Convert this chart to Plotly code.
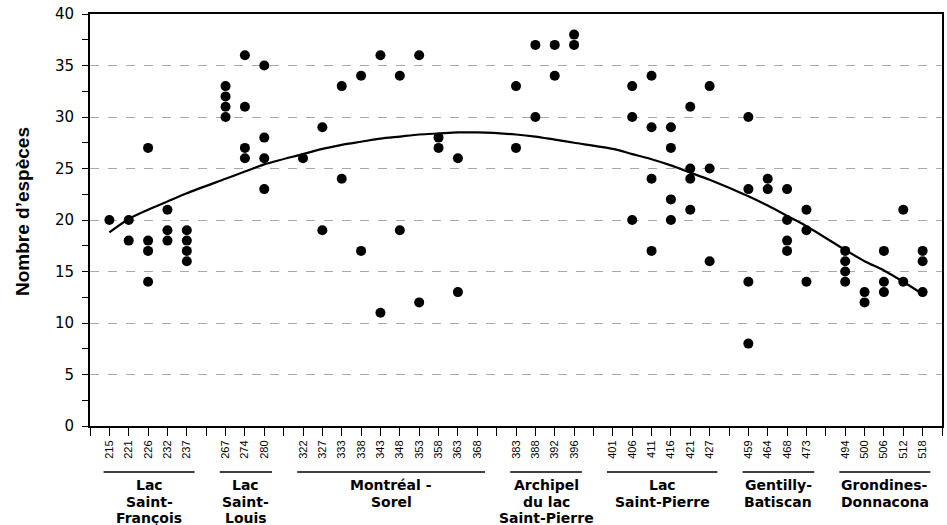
import plotly.graph_objects as go

# --- data ---------------------------------------------------------------
km_labels = ["215", "221", "226", "232", "237",
             "267", "274", "280",
             "322", "327", "333", "338", "343", "348", "353", "358", "363", "368",
             "383", "388", "392", "396",
             "401", "406", "411", "416", "421", "427",
             "459", "464", "468", "473",
             "494", "500", "506", "512", "518"]

group_names = ["Lac\nSaint-\nFrançois", "Lac\nSaint-\nLouis", "Montréal -\nSorel",
               "Archipel\ndu lac\nSaint-Pierre", "Lac\nSaint-Pierre",
               "Gentilly-\nBatiscan", "Grondines-\nDonnacona"]
group_sizes = [5, 3, 10, 4, 6, 4, 5]

species = [[20], [20, 18], [27, 18, 17, 14], [21, 19, 18], [19, 18, 17, 16],
           [33, 32, 31, 30], [36, 31, 27, 26], [35, 28, 26, 23],
           [26], [29, 19], [33, 24], [34, 17], [36, 11], [34, 19], [36, 12],
           [28, 27], [26, 13], [],
           [33, 27], [37, 30], [37, 34], [38, 37],
           [], [33, 30, 20], [34, 29, 24, 17], [29, 27, 22, 20], [31, 25, 24, 21], [33, 25, 16],
           [30, 23, 14, 8], [24, 23], [23, 20, 18, 17], [21, 19, 14],
           [17, 16, 15, 14], [13, 12], [17, 14, 13], [21, 14], [17, 16, 13]]

fit = [18.8, 20.1, 21.0, 21.8, 22.6,
       24.0, 24.7, 25.4,
       26.4, 26.9, 27.3, 27.6, 27.9, 28.1, 28.3, 28.4, 28.5, 28.5,
       28.3, 28.1, 27.8, 27.5,
       26.9, 26.4, 25.9, 25.3, 24.6, 23.9,
       22.3, 21.4, 20.4, 19.4,
       17.1, 16.0, 15.1, 14.0, 12.8]

# --- category slots (one empty slot between groups) -----------------------
pos = []
group_span = []
p = 0
for size in group_sizes:
    start = p + 1
    for _ in range(size):
        p += 1
        pos.append(p)
    group_span.append((start, p))
    p += 1
n_slots = p  # right edge

px, py = [], []
for x, vals in zip(pos, species):
    for v in vals:
        px.append(x)
        py.append(v)

FONT = "Liberation Sans, Arial, sans-serif"
BOLD = "DejaVu Sans, Arial, sans-serif"

fig = go.Figure()
fig.add_trace(go.Scatter(x=pos, y=fit, mode="lines",
                         line=dict(color="black", width=2.2, shape="spline", smoothing=0.8),
                         hoverinfo="skip", showlegend=False))
fig.add_trace(go.Scatter(x=px, y=py, mode="markers",
                         marker=dict(color="black", size=10, line=dict(width=0)),
                         showlegend=False))

tickvals = list(range(0, n_slots + 1))
label_at = dict(zip(pos, km_labels))
ticktext = [label_at.get(t, "") for t in tickvals]

fig.update_xaxes(range=[0, n_slots], tickmode="array", tickvals=tickvals, ticktext=ticktext,
                 tickangle=-90, ticks="outside", ticklen=8, tickwidth=1, tickcolor="black",
                 showline=True, linecolor="black", linewidth=2, mirror=True,
                 showgrid=False, zeroline=False, automargin=False,
                 tickfont=dict(family=FONT, size=11, color="black"))
fig.update_yaxes(range=[0, 40], dtick=5, tick0=0, ticks="outside", ticklen=6, tickwidth=1,
                 tickcolor="black", ticklabelstandoff=5,
                 minor=dict(dtick=2.5, ticks="outside", ticklen=6, tickcolor="black", showgrid=False),
                 showline=True, linecolor="black", linewidth=2, mirror=True,
                 showgrid=True, gridcolor="#a8a8a8", griddash="dash", gridwidth=1,
                 zeroline=False, automargin=False,
                 tickfont=dict(family="DejaVu Sans, sans-serif", size=15, color="black"))

plot_top, plot_bottom = 14, 426
H = plot_bottom - plot_top


def ypaper(pix):
    return (plot_bottom - pix) / H


shapes = []
annotations = []
for name, (a, b) in zip(group_names, group_span):
    shapes.append(dict(type="line", xref="x", yref="paper", x0=a - 0.3, x1=b + 0.4,
                       y0=ypaper(472), y1=ypaper(472), line=dict(color="black", width=1.5)))
    cx = (a - 0.3 + b + 0.4) / 2
    for i, line in enumerate(name.split("\n")):
        annotations.append(dict(xref="x", yref="paper", x=cx, y=ypaper(475 + i * 16.5),
                                xanchor="center", yanchor="top", showarrow=False, text="<b>" + line + "</b>",
                                font=dict(family=BOLD, size=14, color="black")))

annotations.append(dict(xref="paper", yref="paper", x=(22 - 90) / 852, y=ypaper(212),
                        xanchor="center", yanchor="middle", textangle=-90, showarrow=False,
                        text="<b>Nombre d’espèces</b>",
                        font=dict(family="Liberation Sans, Arial, sans-serif", size=19, color="black")))

fig.update_layout(width=947, height=525, margin=dict(l=90, r=5, t=14, b=99),
                  paper_bgcolor="white", plot_bgcolor="white",
                  shapes=shapes, annotations=annotations, showlegend=False)

fig.write_html("out.html", config={"displayModeBar": False},
               post_script="document.body.style.margin='0px';document.body.style.overflow='hidden';")
